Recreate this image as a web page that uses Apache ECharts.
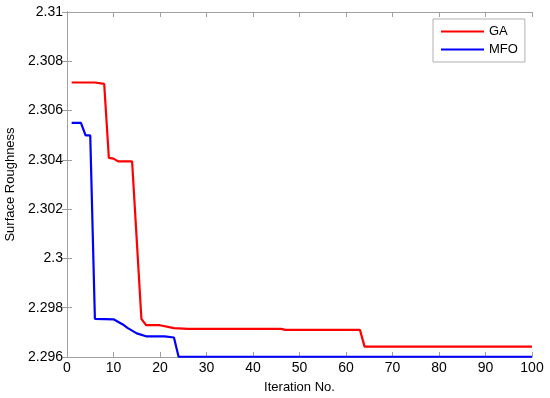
<!DOCTYPE html>
<html><head><meta charset="utf-8">
<script src="https://cdn.jsdelivr.net/npm/echarts@6/dist/echarts.min.js"></script>
<style>html,body{margin:0;padding:0;background:#fff}#c{width:550px;height:398px}</style>
</head><body><div id="c"></div>
<script>
const gaIter = [1, 6, 8, 9, 10, 11, 14, 16, 17, 20, 23, 26, 46, 47, 63, 64, 100];
const gaVal  = [2.30714, 2.30714, 2.30708, 2.30408, 2.30405, 2.30394, 2.30394, 2.29755, 2.29729, 2.29729, 2.29717, 2.29714, 2.29714, 2.2971, 2.2971, 2.29642, 2.29642];
const mfoIter = [1, 3, 4, 5, 6, 10, 12, 13, 15, 17, 21, 23, 24, 100];
const mfoVal  = [2.3055, 2.3055, 2.30499, 2.30499, 2.29755, 2.29753, 2.29732, 2.29718, 2.29696, 2.29684, 2.29684, 2.29679, 2.29601, 2.29601];
const xTicks = [0, 10, 20, 30, 40, 50, 60, 70, 80, 90, 100];
const yTicks = [2.296, 2.298, 2.3, 2.302, 2.304, 2.306, 2.308, 2.31];

const font = '"Liberation Sans", Arial, sans-serif';
const axisGray = '#a0a0a0';
const pairs = (xs, ys) => xs.map((x, i) => [x, ys[i]]);
const fmtY = v => parseFloat(v.toFixed(3)).toString();

const chart = echarts.init(document.getElementById('c'));
const baseAxis = {
  axisLine: {show: true, lineStyle: {color: axisGray, width: 1}},
  axisTick: {show: true, inside: true, length: 5, lineStyle: {color: axisGray}},
  splitLine: {show: false}
};
chart.setOption({
  animation: false,
  grid: {left: 67, right: 18, top: 12, bottom: 41, containLabel: false, outerBoundsMode: 'none'},
  xAxis: [
    Object.assign({}, baseAxis, {
      type: 'value', min: xTicks[0], max: xTicks[xTicks.length - 1], interval: 10,
      name: 'Iteration No.', nameLocation: 'middle', nameGap: 24,
      nameTextStyle: {fontFamily: font, fontSize: 13, color: '#000'},
      axisLabel: {fontFamily: font, fontSize: 14, color: '#000', margin: 4}
    }),
    Object.assign({}, baseAxis, {
      type: 'value', position: 'top', min: 0, max: 100, interval: 10,
      axisLabel: {show: false}
    })
  ],
  yAxis: [
    Object.assign({}, baseAxis, {
      type: 'value', min: yTicks[0], max: yTicks[yTicks.length - 1], interval: 0.002,
      name: 'Surface Roughness', nameLocation: 'middle', nameGap: 47,
      nameTextStyle: {fontFamily: font, fontSize: 13, color: '#000'},
      axisLabel: {fontFamily: font, fontSize: 14, color: '#000', margin: 4, formatter: fmtY}
    }),
    Object.assign({}, baseAxis, {
      type: 'value', position: 'right', min: 2.296, max: 2.31, interval: 0.002,
      axisLabel: {show: false}
    })
  ],
  legend: {
    orient: 'vertical', left: 433, top: 19,
    backgroundColor: '#fff', borderColor: '#b0b0b0', borderWidth: 1, borderRadius: 0,
    padding: [6, 7, 6, 8], itemGap: 5,
    itemWidth: 43, itemHeight: 2, icon: 'rect',
    textStyle: {fontFamily: font, fontSize: 13, color: '#000'},
    data: ['GA', 'MFO']
  },
  series: [
    {name: 'GA', type: 'line', data: pairs(gaIter, gaVal), showSymbol: false,
     lineStyle: {color: '#ff0000', width: 2.2}, itemStyle: {color: '#ff0000'}},
    {name: 'MFO', type: 'line', data: pairs(mfoIter, mfoVal), showSymbol: false,
     lineStyle: {color: '#0000ff', width: 2.2}, itemStyle: {color: '#0000ff'}}
  ]
});
</script></body></html>
